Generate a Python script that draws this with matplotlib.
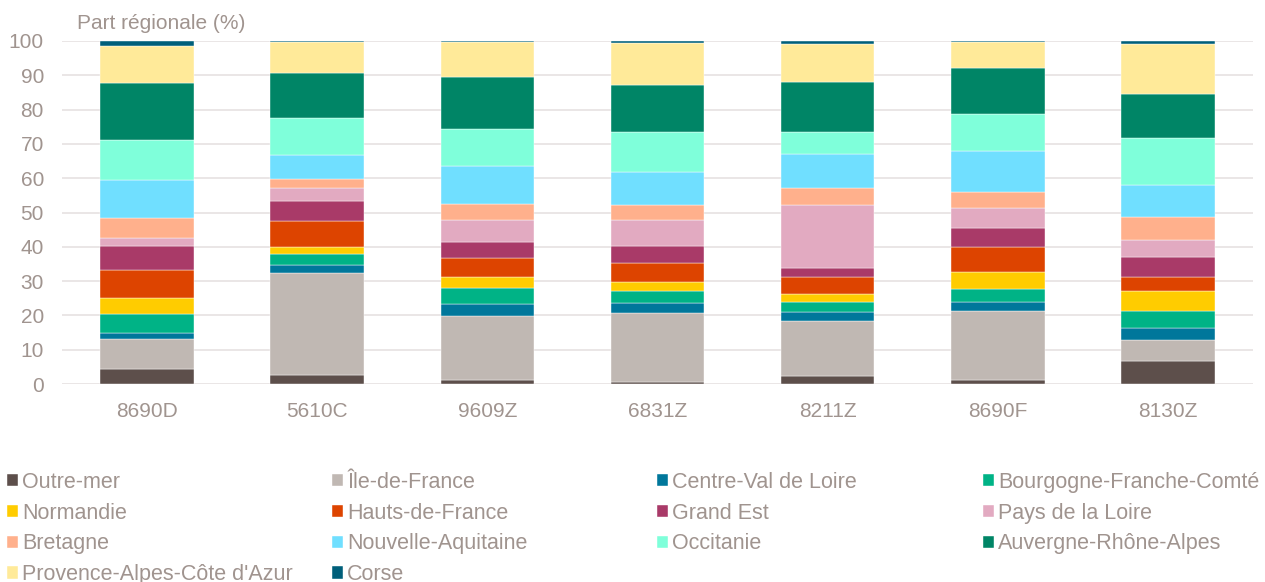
import matplotlib.pyplot as plt
import numpy as np

plt.rcParams['font.family'] = ['Liberation Sans', 'DejaVu Sans']

codes = ["8690D", "5610C", "9609Z", "6831Z", "8211Z", "8690F", "8130Z"]

regions = ["Outre-mer", "Île-de-France", "Centre-Val de Loire", "Bourgogne-Franche-Comté",
           "Normandie", "Hauts-de-France", "Grand Est", "Pays de la Loire",
           "Bretagne", "Nouvelle-Aquitaine", "Occitanie", "Auvergne-Rhône-Alpes",
           "Provence-Alpes-Côte d'Azur", "Corse"]

colors = ["#5D4F4B", "#C0B8B3", "#00779B", "#00B386",
          "#FFCC00", "#DD4400", "#A93A68", "#E2AAC1",
          "#FFB08C", "#70DFFF", "#7FFFDA", "#008566",
          "#FFEA99", "#005F7A"]

# part regionale (%) per code, one row per region (same order as regions)
outre_mer = [4.4, 2.7, 1.3, 0.6, 2.4, 1.2, 6.7]
idf       = [8.6, 29.7, 18.6, 20.1, 16.0, 20.1, 6.2]
cvl       = [1.9, 2.4, 3.3, 2.8, 2.6, 2.7, 3.3]
bfc       = [5.5, 3.1, 4.9, 3.6, 2.8, 3.8, 5.1]
normandie = [4.8, 1.9, 3.1, 2.5, 2.4, 4.8, 5.9]
hdf       = [8.0, 7.8, 5.4, 5.6, 4.9, 7.4, 3.9]
grand_est = [6.9, 5.7, 4.7, 4.9, 2.8, 5.6, 5.9]
pdl       = [2.6, 3.9, 6.4, 7.8, 18.4, 5.6, 4.9]
bretagne  = [5.8, 2.5, 4.9, 4.3, 4.9, 4.7, 6.7]
nouv_aq   = [11.0, 7.0, 11.0, 9.7, 9.9, 12.1, 9.5]
occitanie = [11.6, 10.9, 10.7, 11.5, 6.3, 10.6, 13.5]
ara       = [16.6, 13.1, 15.1, 13.7, 14.6, 13.6, 13.0]
paca      = [10.8, 9.0, 10.3, 12.3, 11.1, 7.5, 14.6]
corse     = [1.5, 0.3, 0.3, 0.6, 0.9, 0.3, 0.8]

values = [outre_mer, idf, cvl, bfc, normandie, hdf, grand_est, pdl,
          bretagne, nouv_aq, occitanie, ara, paca, corse]

txt = "#A0948F"
grid = "#E6E1E1"

fig = plt.figure(figsize=(12.65, 5.82), dpi=100)
ax = fig.add_axes([62/1265, 1-384/582, (1253-62)/1265, (384-41)/582])

x = np.arange(len(codes))
bottom = np.zeros(len(codes))
bars = []
for name, vals, c in zip(regions, values, colors):
    b = ax.bar(x, vals, 0.55, bottom=bottom, color=c, label=name,
               edgecolor="white", linewidth=0.3, zorder=3)
    bars.append(b)
    bottom += np.array(vals)

ax.set_xlim(-0.5, len(codes) - 0.5)
ax.set_ylim(0, 100)
ax.set_yticks(np.arange(0, 101, 10))
ax.set_xticks(x, codes)
ax.yaxis.grid(True, color=grid, linewidth=1.2, zorder=0)
ax.set_axisbelow(True)
for s in ax.spines.values():
    s.set_visible(False)
ax.tick_params(axis="both", length=0, labelsize=15, colors=txt)
ax.tick_params(axis="y", pad=13)
ax.tick_params(axis="x", pad=13)

fig.text(77/1265, 1-29/582, "Part régionale (%)", fontsize=15, color=txt, va="baseline")

# legend laid out row by row, four columns
col_x = [7, 332, 657, 983]
for ci, cx in enumerate(col_x):
    idx = list(range(ci, len(regions), 4))
    leg = fig.legend([bars[i] for i in idx], [regions[i] for i in idx],
                     loc="upper left", bbox_to_anchor=(cx/1265, 1-472/582),
                     frameon=False, fontsize=15.5, handlelength=0.5, handleheight=0.5,
                     handletextpad=0.2, labelspacing=0.45, borderpad=0, borderaxespad=0)
    for t in leg.get_texts():
        t.set_color(txt)

fig.savefig("out.png", dpi=100)
